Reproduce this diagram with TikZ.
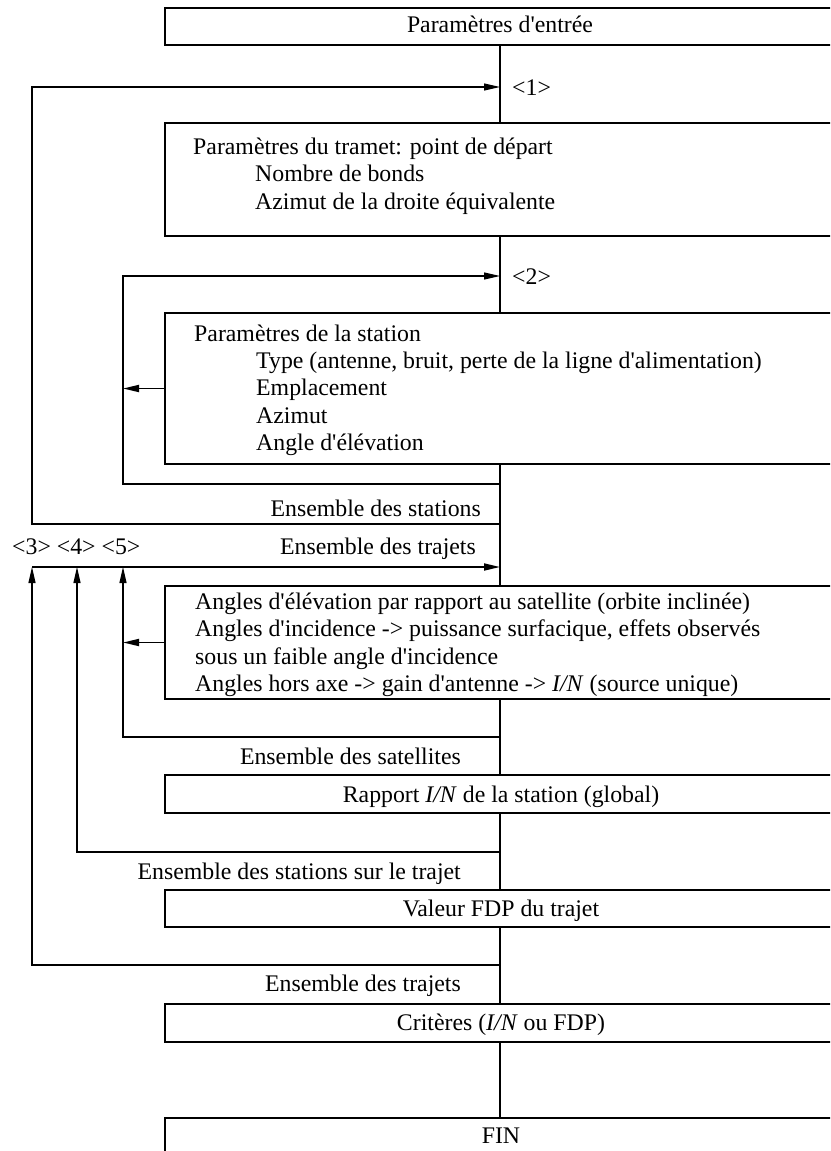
\documentclass[tikz,border=0pt]{standalone}
\usepackage{fontspec}
\setmainfont{Liberation Serif}
\usetikzlibrary{arrows.meta}
\newcommand\ap{\textquotesingle}
\begin{document}
\begin{tikzpicture}[x=1pt,y=-1pt,
  box/.style={draw,line width=1.5pt,rectangle,inner sep=0pt,minimum width=680pt},
  txt/.style={inner sep=0pt,font=\fontsize{23.8}{27}\selectfont},
  ln/.style={line width=1.1pt},
  thk/.style={line width=1.8pt},
  tip/.style={-{Triangle[length=16pt,width=7pt]}}]
\useasboundingbox (0,0) rectangle (830,1151);
\clip (0,0) rectangle (830,1151);

% boxes
\node[box,minimum height=37pt] (b1) at (505,26.5) {};
\node[box,minimum height=113pt] (b2) at (505,179.5) {};
\node[box,minimum height=151pt] (b3) at (505,388.5) {};
\node[box,minimum height=113pt] (b4) at (505,642.5) {};
\node[box,minimum height=38pt] (b5) at (505,794) {};
\node[box,minimum height=37pt] (b6) at (505,908.5) {};
\node[box,minimum height=38pt] (b7) at (505,1023) {};
\node[box,minimum height=52pt] (b8) at (505,1144) {};

% box texts
\node[txt,anchor=base] (t1) at (500,32) {Paramètres d\ap entrée};

\node[txt,anchor=base west] (t2a) at (193,154) {Paramètres du tramet: point de départ};
\node[txt,anchor=base west] (t2b) at (255,181.5) {Nombre de bonds};
\node[txt,anchor=base west] (t2c) at (255,209) {Azimut de la droite équivalente};

\node[txt,anchor=base west] (t3a) at (194,341) {Paramètres de la station};
\node[txt,anchor=base west] (t3b) at (256,368.4) {Type (antenne, bruit, perte de la ligne d\ap alimentation)};
\node[txt,anchor=base west] (t3c) at (256,395.8) {Emplacement};
\node[txt,anchor=base west] (t3d) at (256,423.2) {Azimut};
\node[txt,anchor=base west] (t3e) at (256,450.6) {Angle d\ap élévation};

\node[txt,anchor=base west] (t4a) at (195,609) {Angles d\ap élévation par rapport au satellite (orbite inclinée)};
\node[txt,anchor=base west] (t4b) at (195,636.5) {Angles d\ap incidence -> puissance surfacique, effets observés};
\node[txt,anchor=base west] (t4c) at (195,664) {sous un faible angle d\ap incidence};
\node[txt,anchor=base west] (t4d) at (195,691.5) {Angles hors axe -> gain d\ap antenne -> \textit{I/N} (source unique)};

\node[txt,anchor=base] (t5) at (501,802) {Rapport \textit{I/N} de la station (global)};
\node[txt,anchor=base] (t6) at (501,916) {Valeur FDP du trajet};
\node[txt,anchor=base] (t7) at (501,1030) {Critères (\textit{I/N} ou FDP)};
\node[txt,anchor=base] (t8) at (501,1143) {FIN};

% labels
\node[txt,anchor=base west] (n1) at (512,95) {<1>};
\node[txt,anchor=base west] (n2) at (512,284) {<2>};
\node[txt,anchor=base west] (n345) at (12,554) {<3> <4> <5>};
\node[txt,anchor=base east] (e1) at (481,516) {Ensemble des stations};
\node[txt,anchor=base east] (e2) at (476,554) {Ensemble des trajets};
\node[txt,anchor=base east] (e3) at (461,764) {Ensemble des satellites};
\node[txt,anchor=base east] (e4) at (461,879) {Ensemble des stations sur le trajet};
\node[txt,anchor=base east] (e5) at (461,991) {Ensemble des trajets};

% coordinates
\coordinate (sp) at (500,0);
\coordinate (x3) at (32,0);
\coordinate (x4) at (77,0);
\coordinate (x5) at (123,0);
\coordinate (j1) at (500,87);
\coordinate (j2) at (500,276);
\coordinate (k2) at (500,484);
\coordinate (k1) at (500,524);
\coordinate (j3) at (500,567);
\coordinate (k5) at (500,737);
\coordinate (k4) at (500,852);
\coordinate (k3) at (500,965);

% spine
\draw[ln] (b1.south -| sp) -- (b2.north -| sp);
\draw[ln] (b2.south -| sp) -- (b3.north -| sp);
\draw[ln] (b3.south -| sp) -- (b4.north -| sp);
\draw[ln] (b4.south -| sp) -- (b5.north -| sp);
\draw[ln] (b5.south -| sp) -- (b6.north -| sp);
\draw[ln] (b6.south -| sp) -- (b7.north -| sp);
\draw[ln] (b7.south -| sp) -- (b8.north -| sp);

% loops
\draw[ln,tip] (k1) -- (k1 -| x3) -- (j1 -| x3) -- (j1);
\draw[ln,tip] (k2) -- (k2 -| x5) -- (j2 -| x5) -- (j2);
\draw[thk,tip] (b3.west) -- (b3.west -| x5);
\draw[thk,tip] (j3 -| x3) -- (j3);
\draw[thk,tip] (b4.west) -- (b4.west -| x5);
\draw[ln,tip] (k5) -- (k5 -| x5) -- (j3 -| x5);
\draw[ln,tip] (k4) -- (k4 -| x4) -- (j3 -| x4);
\draw[ln,tip] (k3) -- (k3 -| x3) -- (j3 -| x3);
\end{tikzpicture}
\end{document}
